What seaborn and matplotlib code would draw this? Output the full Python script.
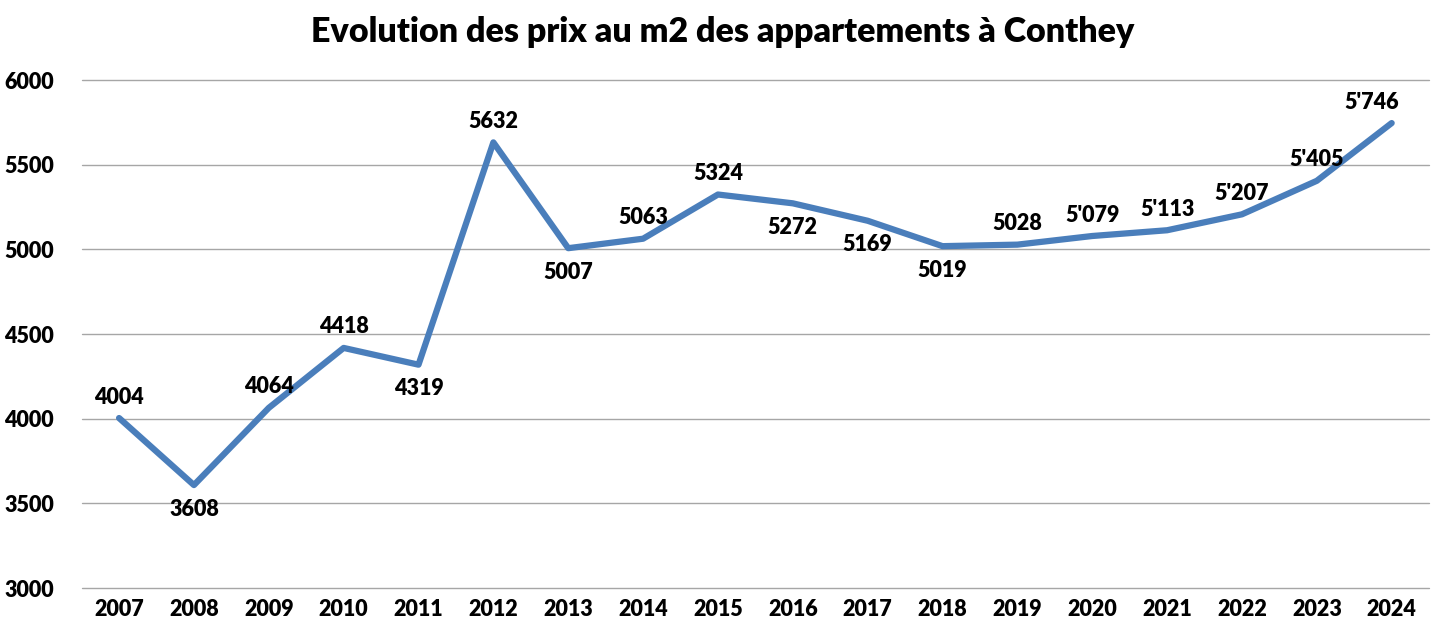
import matplotlib
matplotlib.use("Agg")
import matplotlib.pyplot as plt
import seaborn as sns
import pandas as pd

# Données
years = [str(y) for y in range(2007, 2025)]
prices = [4004, 3608, 4064, 4418, 4319, 5632, 5007, 5063, 5324, 5272,
          5169, 5019, 5028, 5079, 5113, 5207, 5405, 5746]
labels = ["4004", "3608", "4064", "4418", "4319", "5632", "5007", "5063", "5324",
          "5272", "5169", "5019", "5028", "5'079", "5'113", "5'207", "5'405", "5'746"]
# position des étiquettes : 1 = au-dessus, -1 = en dessous
label_side = [1, -1, 1, 1, -1, 1, -1, 1, 1, -1, -1, -1, 1, 1, 1, 1, 1, 1]

sns.set_theme(style="white")
plt.rcParams['font.family'] = ['Lato', 'DejaVu Sans']
plt.rcParams['text.color'] = 'black'
plt.rcParams['xtick.color'] = 'black'
plt.rcParams['ytick.color'] = 'black'

df = pd.DataFrame({'annee': years, 'prix': prices})

fig = plt.figure(figsize=(14.45, 6.43), dpi=100)
ax = fig.add_axes([0.0565, 0.0855, 0.9325, 0.79])

sns.lineplot(data=df, x='annee', y='prix', ax=ax, color='#4A7EBB',
             linewidth=4.5, sort=False)

ax.set_ylim(3000, 6000)
ax.set_xlim(-0.5, len(years) - 0.5)
ax.set_yticks(range(3000, 6001, 500))
ax.yaxis.grid(True, color='#A6A6A6', linewidth=1)
for gl in ax.get_ygridlines():
    gl.set_clip_on(False)
ax.xaxis.grid(False)
ax.set_axisbelow(True)
for s in ax.spines.values():
    s.set_visible(False)
ax.set_xlabel('')
ax.set_ylabel('')
ax.tick_params(axis='both', length=0, labelsize=15.5)
ax.tick_params(axis='x', pad=8)
ax.tick_params(axis='y', pad=20)
for t in ax.get_xticklabels() + ax.get_yticklabels():
    t.set_fontweight('heavy')

for i, (p, lab, side) in enumerate(zip(prices, labels, label_side)):
    dx = -20 if i == len(prices) - 1 else 0
    dy = 21 if side > 0 else -24
    ax.annotate(lab, (i, p), xytext=(dx, dy), textcoords='offset pixels',
                ha='center', va='center', fontsize=15.5, fontweight='heavy')

fig.suptitle('Evolution des prix au m2 des appartements à Conthey',
             fontsize=24.5, fontweight='heavy', y=0.975)

fig.savefig('out.png', dpi=100)
